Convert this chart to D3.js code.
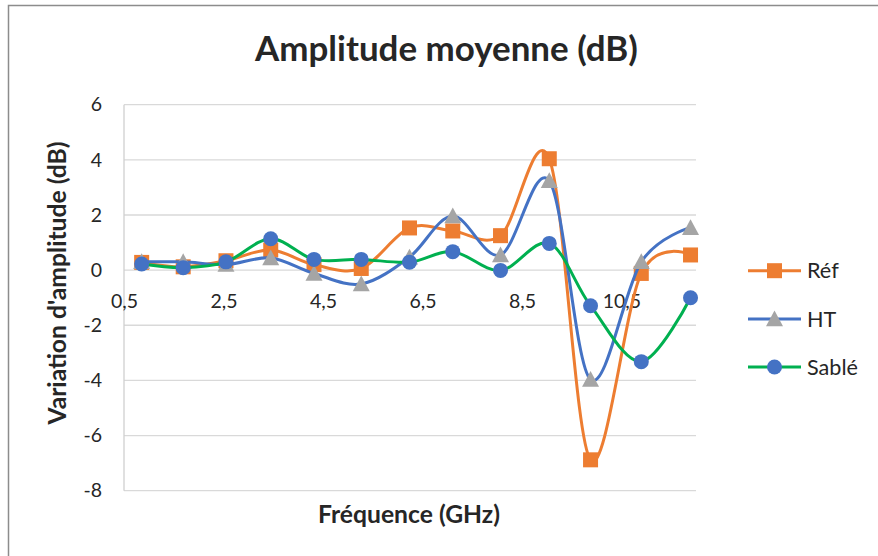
<!DOCTYPE html>
<html>
<head>
<meta charset="utf-8">
<script src="https://cdn.jsdelivr.net/npm/d3@7"></script>
<style>
  html, body { margin: 0; padding: 0; background: #fff; }
  svg { display: block; }
  text { font-family: Lato, "Open Sans", sans-serif; fill: #262626; }
</style>
</head>
<body>
<svg id="chart" width="878" height="556"></svg>
<script>
const frequencies = [0.855, 1.69, 2.55, 3.45, 4.32, 5.27, 6.24, 7.11, 8.07, 9.05, 9.88, 10.9, 11.89];
const refValues   = [0.28, 0.12, 0.34, 0.73, 0.2, 0.06, 1.53, 1.42, 1.25, 4.04, -6.88, -0.12, 0.55];
const htValues    = [0.3, 0.3, 0.2, 0.44, -0.12, -0.5, 0.47, 1.96, 0.55, 3.24, -3.97, 0.3, 1.54];
const sableValues = [0.22, 0.09, 0.3, 1.14, 0.39, 0.39, 0.29, 0.67, -0.01, 0.97, -1.29, -3.32, -1.0];
const seriesNames = ["Réf", "HT", "Sablé"];
const xTicks = [0.5, 2.5, 4.5, 6.5, 8.5, 10.5];
const yTicks = [6, 4, 2, 0, -2, -4, -6, -8];
const titleText = "Amplitude moyenne (dB)";
const xTitle = "Fréquence (GHz)";
const yTitle = "Variation d'amplitude (dB)";

const svg = d3.select("#chart");
const plot = { left: 124, right: 696, top: 104.7, bottom: 490.7 };

const x = d3.scaleLinear().domain([0.5, 12]).range([plot.left, plot.right]);
const y = d3.scaleLinear().domain([-8, 6]).range([plot.bottom, plot.top]);

function fitFont(sel, base, target) {
  sel.style("font-size", base + "px");
  const w = sel.node().getComputedTextLength();
  const size = base * target / w;
  sel.style("font-size", size + "px");
  return size;
}

// outer border
svg.append("rect").attr("x", 8.5).attr("y", 5.5).attr("width", 900).attr("height", 600)
  .attr("fill", "none").attr("stroke", "#8c8c8c").attr("stroke-width", 1.5);

// gridlines
svg.append("g").selectAll("line").data(yTicks).join("line")
  .attr("x1", plot.left).attr("x2", plot.right)
  .attr("y1", d => y(d)).attr("y2", d => y(d))
  .attr("stroke", "#d9d9d9").attr("stroke-width", 1.3);

// vertical axis line
svg.append("line").attr("x1", plot.left).attr("x2", plot.left)
  .attr("y1", plot.top).attr("y2", plot.bottom)
  .attr("stroke", "#d0d0d0").attr("stroke-width", 1.3);

const tickSize = 19.5;
// y tick labels
const yAxis = d3.axisLeft(y).tickValues(yTicks).tickSize(0).tickPadding(22)
  .tickFormat(d => String(d).replace("−", "-"));
const gy = svg.append("g").attr("transform", `translate(${plot.left},0)`).call(yAxis);
gy.select(".domain").remove();
gy.selectAll("text").style("font-size", tickSize + "px").attr("fill", "#404040").style("font-family", "Lato, sans-serif");

// x tick labels (axis crosses at y=0)
const xAxis = d3.axisBottom(x).tickValues(xTicks).tickSize(0).tickPadding(24)
  .tickFormat(d => d3.format(".1f")(d).replace(".", ","));
const gx = svg.append("g").attr("transform", `translate(0,${y(0)})`).call(xAxis);
gx.select(".domain").remove();
gx.selectAll("text").style("font-size", tickSize + "px").attr("fill", "#404040").style("font-family", "Lato, sans-serif");

// titles
const t = svg.append("text").attr("x", 446.5).attr("y", 61).attr("text-anchor", "middle")
  .style("font-weight", "bold").attr("fill", "#000").text(titleText);
fitFont(t, 30, 383);
const xt = svg.append("text").attr("x", 409).attr("y", 523).attr("text-anchor", "middle")
  .style("font-weight", "bold").attr("fill", "#262626").text(xTitle);
const axisTitleSize = fitFont(xt, 20, 182);
svg.append("text").attr("transform", `translate(66,283) rotate(-90)`)
  .attr("text-anchor", "middle")
  .style("font-size", axisTitleSize + "px").style("font-weight", "bold").attr("fill", "#262626").text(yTitle);

const series = [
  { name: seriesNames[0], values: refValues, line: "#ED7D31", marker: "#ED7D31", shape: "square" },
  { name: seriesNames[1], values: htValues, line: "#4472C4", marker: "#A5A5A5", shape: "triangle" },
  { name: seriesNames[2], values: sableValues, line: "#00B050", marker: "#4472C4", shape: "circle" }
];

const lineGen = d3.line().x(d => x(d[0])).y(d => y(d[1])).curve(d3.curveCatmullRom.alpha(0));

function drawMarker(g, shape, color, cx, cy) {
  if (shape === "square") {
    g.append("rect").attr("x", cx - 7.5).attr("y", cy - 7.5).attr("width", 15).attr("height", 15).attr("fill", color);
  } else if (shape === "triangle") {
    const s = 8.5;
    g.append("path").attr("d", `M${cx},${cy - s}L${cx + s},${cy + s * 0.85}L${cx - s},${cy + s * 0.85}Z`).attr("fill", color);
  } else {
    g.append("circle").attr("cx", cx).attr("cy", cy).attr("r", 7.5).attr("fill", color);
  }
}

series.forEach(s => {
  const pts = frequencies.map((f, i) => [f, s.values[i]]);
  const g = svg.append("g");
  g.append("path").attr("d", lineGen(pts)).attr("fill", "none")
    .attr("stroke", s.line).attr("stroke-width", 3).attr("stroke-linejoin", "round");
  pts.forEach(p => drawMarker(g, s.shape, s.marker, x(p[0]), y(p[1])));
});

// legend
const legendY = [270.7, 319, 367];
let legendSize = null;
series.forEach((s, i) => {
  const g = svg.append("g");
  const ly = legendY[i];
  g.append("line").attr("x1", 748).attr("x2", 801).attr("y1", ly).attr("y2", ly)
    .attr("stroke", s.line).attr("stroke-width", 3);
  drawMarker(g, s.shape, s.marker, 774.5, ly);
  const lt = g.append("text").attr("x", 807).attr("y", ly).attr("dy", "0.35em")
    .attr("fill", "#262626").text(s.name);
  if (s.name === "Sablé") legendSize = fitFont(lt, 18, 51);
});
svg.selectAll("g text").filter(function() { return this.parentNode.tagName === "g" && !this.style.fontSize; })
  .style("font-size", legendSize + "px");
</script>
</body>
</html>
